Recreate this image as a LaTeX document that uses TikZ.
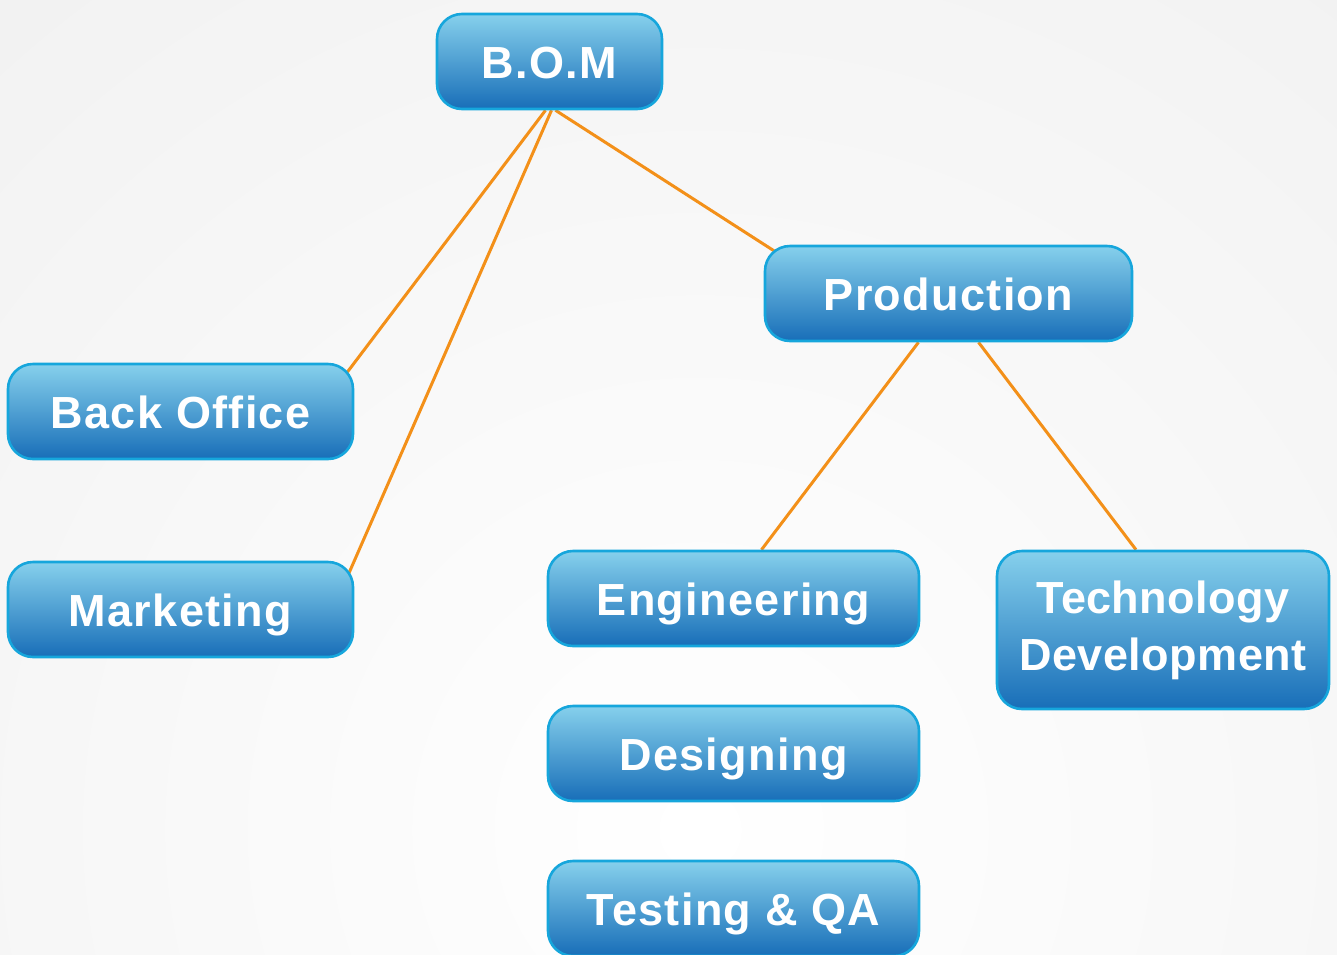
\documentclass[tikz,border=0pt]{standalone}
\usepackage{fontspec}
\newfontfamily\nodefont[LetterSpace=3]{Liberation Sans}
\usetikzlibrary{calc}
\pgfdeclarelayer{background}
\pgfsetlayers{background,main}
\definecolor{bgout}{RGB}{238,238,238}
\definecolor{boxtop}{RGB}{134,208,236}
\definecolor{boxbot}{RGB}{24,110,184}
\definecolor{boxline}{RGB}{22,166,220}
\definecolor{linkc}{RGB}{243,144,25}
\tikzset{
  box/.style={draw=boxline, line width=1.3pt, rounded corners=12.5pt,
    top color=boxtop, bottom color=boxbot, shading angle=0,
    text=white, font=\nodefont\bfseries\fontsize{22.5}{28.5}\selectfont,
    align=center, inner sep=0pt, minimum height=47.5pt},
  onebox/.style={box, text height=16.5pt, text depth=0pt},
  link/.style={draw=linkc, line width=1.5pt}
}
\begin{document}
\begin{tikzpicture}[x=0.5pt,y=-0.5pt]
\useasboundingbox (0,0) rectangle (1337,954);
\node[onebox, minimum width=112.5pt] (bom) at (549.5,61.5) {B.O.M};
\node[onebox, minimum width=183.5pt] (prod) at (948.5,293.5) {Production};
\node[onebox, minimum width=172.5pt] (bo) at (180.5,411.5) {Back Office};
\node[onebox, minimum width=172.5pt] (mk) at (180.5,609.5) {Marketing};
\node[onebox, minimum width=185.5pt] (eng) at (733.5,598.5) {Engineering};
\node[onebox, minimum width=185.5pt] (des) at (733.5,753.5) {Designing};
\node[onebox, minimum width=185.5pt] (tqa) at (733.5,908.5) {Testing \& QA};
\node[box, minimum width=166pt, minimum height=79pt,
      font=\nodefont\addfontfeature{LetterSpace=1}\bfseries\fontsize{22.5}{28.5}\selectfont]
      (tech) at (1163,630) {Technology\\Development};
\begin{pgfonlayer}{background}
  \begin{scope}
    \clip (0,0) rectangle (1337,954);
    \fill[bgout] (0,0) rectangle (1337,954);
    \shade[inner color=white, outer color=bgout] (700,830) circle (1400);
  \end{scope}
  \draw[link] ($(bom.south)+(-4,0)$) -- ($(bo.north east)+(-15,20)$);
  \draw[link] ($(bom.south)+(2,0)$) -- ($(mk.north east)+(-10,23)$);
  \draw[link] ($(bom.south)+(6,0)$) -- ($(prod.north west)+(21,13)$);
  \draw[link] ($(prod.south)+(-30,0)$) -- ($(eng.north)+(28,0)$);
  \draw[link] ($(prod.south)+(30,0)$) -- ($(tech.north)+(-27,0)$);
\end{pgfonlayer}
\end{tikzpicture}
\end{document}
